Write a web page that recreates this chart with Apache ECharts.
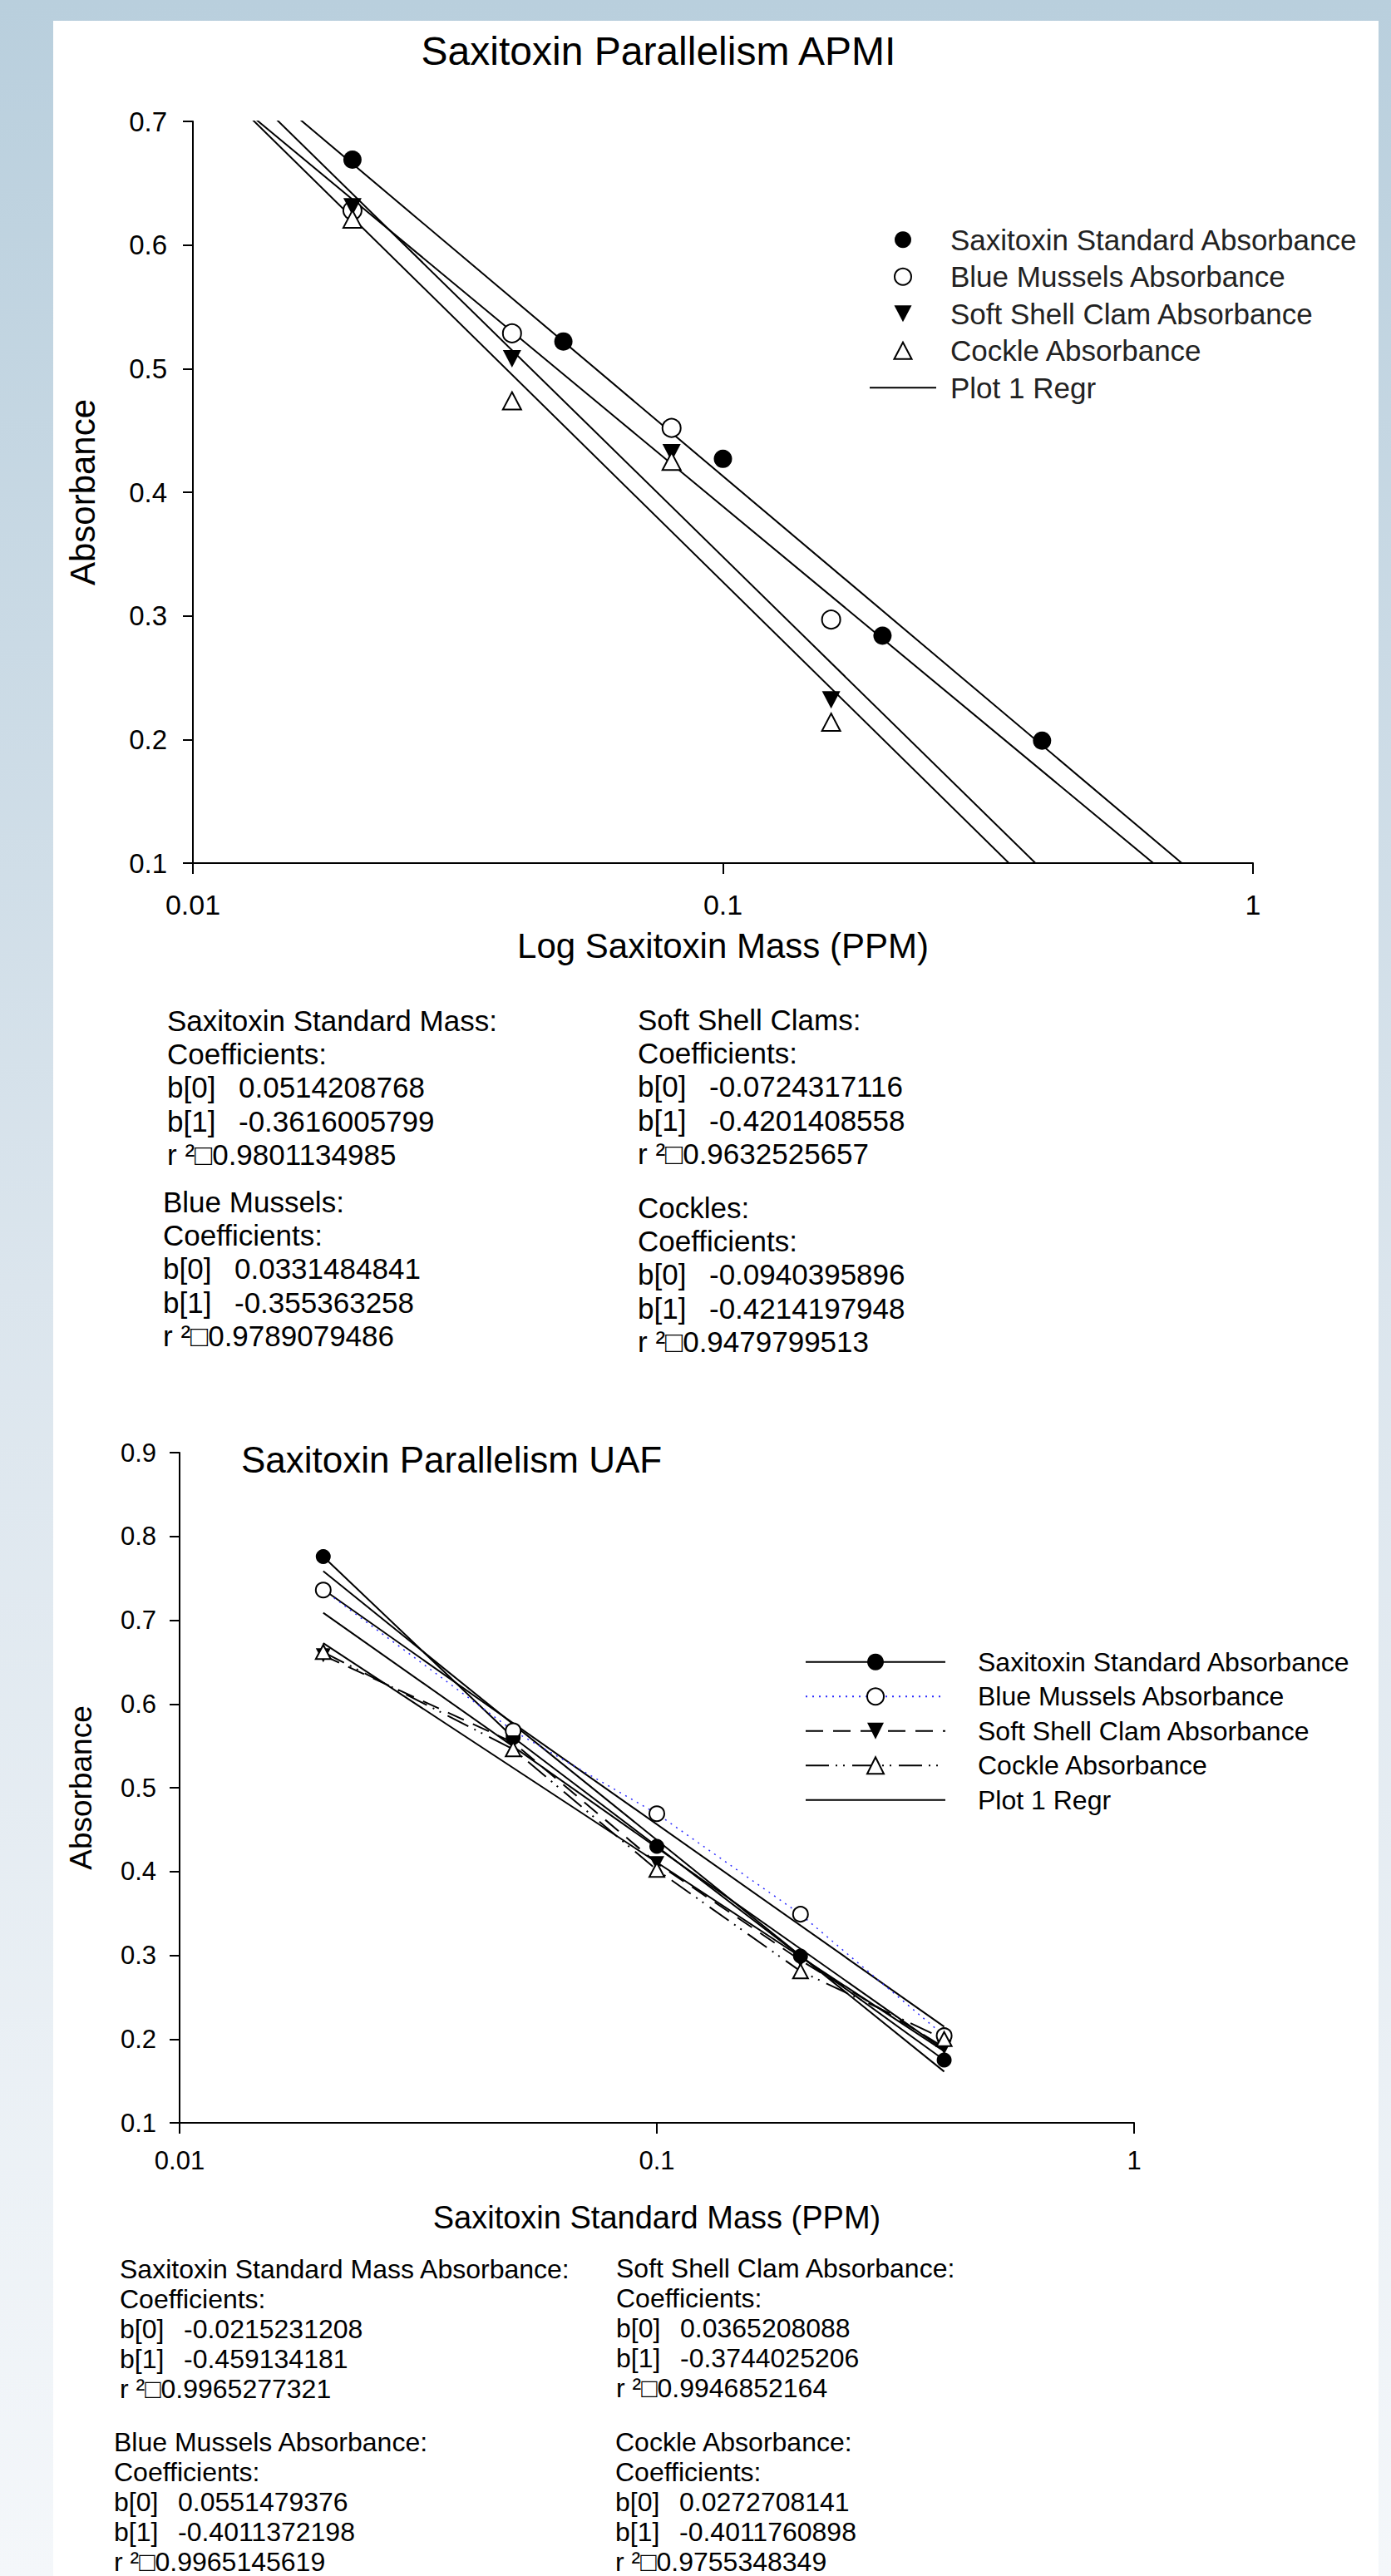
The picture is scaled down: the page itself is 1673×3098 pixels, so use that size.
<!DOCTYPE html>
<html><head><meta charset="utf-8">
<script src="https://cdn.jsdelivr.net/npm/echarts@6.0.0/dist/echarts.min.js"></script>
<style>
html,body{margin:0;padding:0;width:1673px;height:3098px;overflow:hidden;}
body{background:linear-gradient(to bottom,#b9cfdd 0%,#dbe5ed 50%,#f4f7fa 100%);position:relative;}
#panel{position:absolute;left:64px;top:25px;width:1594px;height:3073px;background:#fff;}
#chart{position:absolute;left:0;top:0;width:1673px;height:3098px;}
</style></head><body>
<div id="panel"></div><div id="chart"></div>
<script>
// ---------- APMI (top chart) ----------
const apmiStdMass = [0.02, 0.05, 0.1, 0.2, 0.4];
const apmiStdAbs = [0.669, 0.522, 0.427, 0.284, 0.199];
const apmiSampleMass = [0.02, 0.04, 0.08, 0.16];
const apmiMusselAbs = [0.628, 0.5285, 0.452, 0.297];
const apmiClamAbs = [0.631, 0.508, 0.432, 0.232];
const apmiCockleAbs = [0.621, 0.474, 0.425, 0.214];
const apmiB0 = [0.0514208768, 0.0331484841, -0.0724317116, -0.0940395896];
const apmiB1 = [-0.3616005799, -0.355363258, -0.4201408558, -0.4214197948];
const apmiR2 = [0.9801134985, 0.9789079486, 0.9632525657, 0.9479799513];
const apmiStatTitles = ['Saxitoxin Standard Mass:', 'Blue Mussels:', 'Soft Shell Clams:', 'Cockles:'];

// ---------- UAF (bottom chart) ----------
const uafMass = [0.02, 0.05, 0.1, 0.2, 0.4];
const uafStdAbs = [0.776, 0.560, 0.430, 0.299, 0.175];
const uafMusselAbs = [0.736, 0.568, 0.469, 0.349, 0.204];
const uafClamAbs = [0.658, 0.554, 0.410, 0.294, 0.190];
const uafCockleAbs = [0.662, 0.546, 0.402, 0.281, 0.200];
const uafB0 = [-0.0215231208, 0.0551479376, 0.0365208088, 0.0272708141];
const uafB1 = [-0.459134181, -0.4011372198, -0.3744025206, -0.4011760898];
const uafR2 = [0.9965277321, 0.9965145619, 0.9946852164, 0.9755348349];
const uafStatTitles = ['Saxitoxin Standard Mass Absorbance:', 'Blue Mussels Absorbance:', 'Soft Shell Clam Absorbance:', 'Cockle Absorbance:'];

const seriesNames = ['Saxitoxin Standard Absorbance', 'Blue Mussels Absorbance', 'Soft Shell Clam Absorbance', 'Cockle Absorbance'];
const regrName = 'Plot 1 Regr';
const titles = ['Saxitoxin Parallelism APMI', 'Saxitoxin Parallelism UAF'];
const xNames = ['Log Saxitoxin Mass (PPM)', 'Saxitoxin Standard Mass (PPM)'];
const yName = 'Absorbance';

const FONT = "'Liberation Sans', Arial, Helvetica, sans-serif";
const DOWN_TRI = 'path://M0,0L20,0L10,19Z';
const UP_TRI = 'path://M10,0L20,19L0,19Z';
const marks = [
  {symbol: 'circle', fill: '#000', bw: 0},
  {symbol: 'circle', fill: '#fff', bw: 2},
  {symbol: DOWN_TRI, fill: '#000', bw: 0},
  {symbol: UP_TRI, fill: '#fff', bw: 2}
];
const uafLines = [
  {color: '#000', width: 2, type: 'solid'},
  {color: '#2a2aff', width: 1.5, type: [2, 6]},
  {color: '#000', width: 2, type: [21, 12]},
  {color: '#000', width: 2, type: [28, 8, 2, 7, 2, 9]}
];

function pairs(xs, ys) { return xs.map((x, i) => [x, ys[i]]); }
function regrLine(b0, b1, xs) { return xs.map(x => [x, b0 + b1 * Math.log10(x)]); }

const apmiX = [apmiStdMass, apmiSampleMass, apmiSampleMass, apmiSampleMass];
const apmiY = [apmiStdAbs, apmiMusselAbs, apmiClamAbs, apmiCockleAbs];
const uafY = [uafStdAbs, uafMusselAbs, uafClamAbs, uafCockleAbs];

const series = [];
// top regression lines (span the whole axis, clipped by the grid)
for (let i = 0; i < 4; i++) {
  series.push({type: 'line', name: 'APMI: ' + regrName, xAxisIndex: 0, yAxisIndex: 0,
    data: regrLine(apmiB0[i], apmiB1[i], [0.01, 1]), symbol: 'none', clip: true, z: 2,
    lineStyle: {color: '#000', width: 2}, itemStyle: {color: '#000'}, silent: true});
}
for (let i = 0; i < 4; i++) {
  series.push({type: 'scatter', name: 'APMI: ' + seriesNames[i], xAxisIndex: 0, yAxisIndex: 0,
    data: pairs(apmiX[i], apmiY[i]), symbol: marks[i].symbol, symbolKeepAspect: true,
    symbolSize: 22, z: 4,
    itemStyle: {color: marks[i].fill, borderColor: '#000', borderWidth: marks[i].bw, opacity: 1}});
}
// bottom regression lines (span the data range)
for (let i = 0; i < 4; i++) {
  series.push({type: 'line', name: 'UAF: ' + regrName, xAxisIndex: 1, yAxisIndex: 1,
    data: regrLine(uafB0[i], uafB1[i], [uafMass[0], uafMass[uafMass.length - 1]]), symbol: 'none', z: 2,
    lineStyle: {color: '#000', width: 2}, itemStyle: {color: '#000'}, silent: true});
}
for (let i = 0; i < 4; i++) {
  series.push({type: 'line', name: 'UAF: ' + seriesNames[i], xAxisIndex: 1, yAxisIndex: 1,
    data: pairs(uafMass, uafY[i]), symbol: marks[i].symbol, symbolKeepAspect: true,
    symbolSize: 18, showSymbol: true, z: 4,
    lineStyle: {color: uafLines[i].color, width: uafLines[i].width, type: uafLines[i].type},
    itemStyle: {color: marks[i].fill, borderColor: '#000', borderWidth: marks[i].bw, opacity: 1}});
}

function statBlock(x, y, title, b0, b1, r2, fs, lh, kw) {
  return {type: 'text', x: x, y: y, silent: true, style: {
    text: [title, 'Coefficients:', '{k|b[0]}' + b0, '{k|b[1]}' + b1, 'r \u00b2\u25a1' + r2].join('\n'),
    fontSize: fs, fontFamily: FONT, fill: '#000', lineHeight: lh,
    align: 'left', verticalAlign: 'top',
    rich: {k: {width: kw, fontSize: fs, fontFamily: FONT, lineHeight: lh, fill: '#000'}}
  }};
}
const apmiPos = [[201, 1207], [196, 1425], [767, 1206], [767, 1432]];
const uafPos = [[144, 2711], [137, 2919], [741, 2710], [740, 2919]];
const graphics = [];
for (let i = 0; i < 4; i++) {
  graphics.push(statBlock(apmiPos[i][0], apmiPos[i][1], apmiStatTitles[i], apmiB0[i], apmiB1[i], apmiR2[i], 35, 40.3, 86));
  graphics.push(statBlock(uafPos[i][0], uafPos[i][1], uafStatTitles[i], uafB0[i], uafB1[i], uafR2[i], 32, 36, 77));
}

function axisCommon(tickLen, labelMargin, labelSize) {
  return {
    axisLine: {show: true, onZero: false, lineStyle: {color: '#000', width: 2}},
    axisTick: {show: true, inside: false, length: tickLen, lineStyle: {color: '#000', width: 2}},
    axisLabel: {show: true, margin: labelMargin, fontSize: labelSize, fontFamily: FONT, color: '#000'},
    splitLine: {show: false}, minorTick: {show: false}, minorSplitLine: {show: false}
  };
}

const hidden = {color: 'rgba(0,0,0,0)', borderColor: 'rgba(0,0,0,0)', borderWidth: 0};
const option = {
  animation: false,
  backgroundColor: 'transparent',
  textStyle: {fontFamily: FONT},
  title: [
    {text: titles[0], left: 792, top: 37, textAlign: 'center', padding: 0,
      textStyle: {fontSize: 48, fontWeight: 'normal', fontFamily: FONT, color: '#000'}},
    {text: titles[1], left: 290, top: 1733, padding: 0,
      textStyle: {fontSize: 44, fontWeight: 'normal', fontFamily: FONT, color: '#000'}}
  ],
  grid: [
    {left: 232, top: 146, width: 1275, height: 892, containLabel: false, outerBoundsMode: 'none', show: false},
    {left: 216, top: 1747, width: 1148, height: 806, containLabel: false, outerBoundsMode: 'none', show: false}
  ],
  xAxis: [
    Object.assign({type: 'log', logBase: 10, min: 0.01, max: 1, gridIndex: 0, position: 'bottom',
      name: xNames[0], nameLocation: 'middle', nameGap: 78, nameMoveOverlap: false,
      nameTextStyle: {fontSize: 42, fontFamily: FONT, color: '#000'}}, axisCommon(13, 33, 34)),
    Object.assign({type: 'log', logBase: 10, min: 0.01, max: 1, gridIndex: 1, position: 'bottom',
      name: xNames[1], nameLocation: 'middle', nameGap: 95, nameMoveOverlap: false,
      nameTextStyle: {fontSize: 38, fontFamily: FONT, color: '#000'}}, axisCommon(13, 30, 31))
  ],
  yAxis: [
    Object.assign({type: 'value', min: 0.1, max: 0.7, interval: 0.1, gridIndex: 0, position: 'left',
      name: yName, nameLocation: 'middle', nameGap: 112, nameMoveOverlap: false,
      nameTextStyle: {fontSize: 42, fontFamily: FONT, color: '#000'}}, axisCommon(12, 31, 33)),
    Object.assign({type: 'value', min: 0.1, max: 0.9, interval: 0.1, gridIndex: 1, position: 'left',
      name: yName, nameLocation: 'middle', nameGap: 100, nameMoveOverlap: false,
      nameTextStyle: {fontSize: 37, fontFamily: FONT, color: '#000'}}, axisCommon(12, 28, 31))
  ],
  legend: [
    {orient: 'vertical', left: 1045, top: 266, padding: 0, itemGap: 0, itemWidth: 80, itemHeight: 20,
      selectedMode: false, align: 'left', symbolKeepAspect: true,
      data: seriesNames.map(n => 'APMI: ' + n).concat([{name: 'APMI: ' + regrName, itemStyle: hidden}]),
      formatter: n => n.replace('APMI: ', ''),
      textStyle: {fontSize: 35, fontFamily: FONT, color: '#222', lineHeight: 44.5, padding: [0, 0, 0, 12]}},
    {orient: 'vertical', left: 968, top: 1978, padding: 0, itemGap: 0, itemWidth: 168, itemHeight: 25,
      selectedMode: false, align: 'left',
      data: seriesNames.map(n => 'UAF: ' + n).concat([{name: 'UAF: ' + regrName, itemStyle: hidden}]),
      formatter: n => n.replace('UAF: ', ''),
      textStyle: {fontSize: 32, fontFamily: FONT, color: '#000', lineHeight: 41.5, padding: [0, 0, 0, 34]}}
  ],
  graphic: {elements: graphics},
  series: series
};

const chart = echarts.init(document.getElementById('chart'), null, {renderer: 'svg', width: 1673, height: 3098});
chart.setOption(option);
</script></body></html>
